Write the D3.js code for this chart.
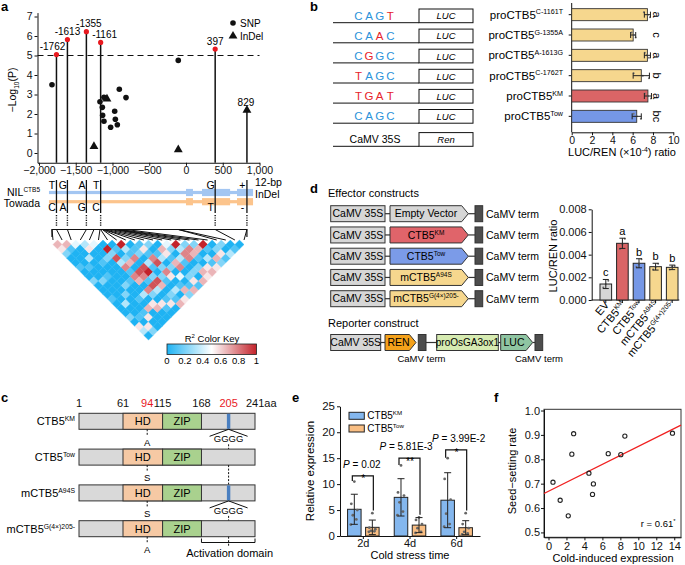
<!DOCTYPE html>
<html>
<head>
<meta charset="utf-8">
<script src="https://cdn.jsdelivr.net/npm/d3@7"></script>
<style>
body { margin: 0; background: #fff; }
svg { font-family: 'Liberation Sans', Arial, sans-serif; }
</style>
</head>
<body>
<script>
// ---- data: panel a (association + gene model + LD) ----
var aPeakPos = [-1762, -1613, -1355, -1161, 397]
var aPeakP = [5.05, 5.82, 6.22, 5.67, 5.33]
var aSnpPos = [-1823, -105, -1170, -1138, -1134, -1116, -1116, -1025, -970, -961, -934, -907, -816]
var aSnpP = [3.5, 4.75, 2.63, 2.34, 1.93, 2.86, 1.63, 1.32, 2.14, 1.73, 1.45, 3.27, 2.84]
var aIndelPos = [-1075, -1252, -105]
var aIndelP = [2.77, 0.34, 0.17]
var aBigIndelPos = 829, aBigIndelP = 2.2
var aTicksX = [-2000, -1500, -1000, -500, 0, 500, 1000]
var aVarPos = [-1762, -1613, -1355, -1161, 397, 829]
var aAlleleNil = ['T', 'G', 'A', 'T', 'G', '+']
var aAlleleTow = ['C', 'A', 'G', 'C', 'T', '-']
var aGeneSpan = [-1864, 912]
var aExons = [[0, 95], [218, 600], [694, 912]]
// all markers used in the LD plot, in genomic order
var ldPos = [-1823, -1762, -1613, -1355, -1252, -1170, -1161, -1138, -1134, -1116, -1116,
             -1075, -1025, -970, -961, -934, -907, -816, -105, -105, 397, 829]
// R2 x 9, row i holds pairs (i, i+1 .. last)
var ldRows = [
  '652001002000100020530', '61000100200003001052', '4003000100020001500', '350010000200106000',
  '40020000100305600', '0928371760720510', '010260871830150', '93170892860216',
  '0120310210305', '151782750162', '20130204016', '0651670251', '420310206', '93770265',
  '2761056', '260315', '91062', '0251', '203', '01', '0'
]
var keyTicks = [0, 0.2, 0.4, 0.6, 0.8, 1]

// ---- panel b ----
var bSeqs = ['CAGT', 'CAAC', 'CGGC', 'TAGC', 'TGAT', 'CAGC']
var bSeqRed = [[3], [2], [1], [0], [0, 1, 2, 3], []]
var bLabels = ['proCTB5^C-1161T', 'proCTB5^G-1355A', 'proCTB5^A-1613G', 'proCTB5^C-1762T', 'proCTB5^KM', 'proCTB5^Tow']
var bVals = [7.45, 6.05, 7.45, 6.85, 7.5, 6.4]
var bErr = [0.3, 0.25, 0.3, 0.8, 0.35, 0.45]
var bDots = [[7.1, 7.5, 7.7], [5.9, 6.1, 6.3], [7.2, 7.4, 7.6], [6.1, 7.0, 7.6], [7.2, 7.5, 7.8], [6.1, 6.4, 6.8]]
var bLetters = ['a', 'c', 'a', 'b', 'a', 'bc']
var bTicks = [0, 2, 4, 6, 8, 10]

// ---- panel c ----
var cRows = ['CTB5^KM', 'CTB5^Tow', 'mCTB5^A94S', 'mCTB5^G(4×)205-']
var cSite94 = ['A', 'S', 'S', 'A']
var cInsert = [true, false, true, false]
var cTicks = [1, 61, 94, 115, 168, 205, 241]
var cHighlight = [94, 205]
var cHD = [61, 115], cZIP = [115, 168], cAct = [168, 241]

// ---- panel d ----
var dConstructs = ['Empty Vector', 'CTB5^KM', 'CTB5^Tow', 'mCTB5^A94S', 'mCTB5^G(4×)205-']
var dLabels = ['EV', 'CTB5^KM', 'CTB5^Tow', 'mCTB5^A94S', 'mCTB5^G(4×)205-']
var dVals = [0.00141, 0.0050, 0.00324, 0.00294, 0.00288]
var dErr = [0.0004, 0.00045, 0.0004, 0.0003, 0.0002]
var dDots = [[0.0011, 0.0014, 0.0017], [0.0045, 0.0049, 0.0054], [0.0029, 0.0032, 0.0036], [0.0027, 0.0029, 0.0032], [0.0027, 0.0029, 0.0030]]
var dLetters = ['c', 'a', 'b', 'b', 'b']
var dTicks = [0, 0.002, 0.004, 0.006, 0.008]

// ---- panel e ----
var eDays = ['2d', '4d', '6d']
var eKM = [5.15, 7.45, 6.9], eKMsd = [2.9, 3.6, 5.3]
var eTow = [1.67, 2.1, 1.6], eTowsd = [1.4, 1.45, 1.35]
var eKMpts = [[10.5, 6.2, 5.0, 4.0, 3.2, 2.2], [13.6, 8.4, 7.8, 6.5, 4.7, 4.0], [15.0, 11.0, 7.0, 4.3, 2.3, 1.8]]
var eTowPts = [[4.4, 1.6, 1.3, 1.0, 0.9, 0.8], [3.6, 3.1, 2.3, 1.5, 0.8, 0.6], [4.4, 2.3, 1.5, 0.8, 0.5, 0.3]]
var eP = ['0.02', '5.81E-3', '3.99E-2']
var eStars = ['*', '**', '*']
var eBracket = [11.6, 15.0, 16.6]
var eTicks = [0, 5, 10, 15, 20, 25]

// ---- panel f ----
var fX = [0.5, 1.3, 2.2, 2.6, 2.8, 4.5, 5.0, 4.9, 6.65, 8.05, 8.5, 13.8]
var fY = [0.706, 0.632, 0.568, 0.821, 0.905, 0.743, 0.699, 0.656, 0.823, 0.819, 0.895, 0.907]
var fIntercept = 0.669, fSlope = 0.0184
var fTicksX = [0, 2, 4, 6, 8, 10, 12, 14]
var fTicksY = [0.5, 0.6, 0.7, 0.8, 0.9, 1.0]

var colYellow = '#F6D78E', colRed = '#DA6566', colBlue = '#7597E6', colGray = '#D6D6D6'
// small horizontal nudges for labels (layout only)
var aLabelDx = [-4, 0, 2.5, 4, 0, -1]
var ePLabelDx = [-1.5, -4, 2]

var svg = d3.select('body').append('svg').attr('width', 685).attr('height', 565)
svg.append('rect').attr('width', 685).attr('height', 565).attr('fill', '#fff')

//text with superscript / subscript pieces
function rich(g, x, y, pieces, fs) {
    var t = g.append('text').attr('x', x).attr('y', y).attr('font-size', fs)
    var shift = 0
    pieces.forEach(function(p) {
        var target = p[1] == 'sup' ? -0.38 * fs : p[1] == 'sub' ? 0.28 * fs : 0
        var s = t.append('tspan').attr('dy', target - shift).text(p[0])
        if (p[1]) s.attr('font-size', fs * 0.62)
        shift = target
    })
    return t
}
function pieces(label) {
    var k = label.indexOf('^')
    return k < 0 ? [[label, null]] : [[label.slice(0, k), null], [label.slice(k + 1), 'sup']]
}
function styleAxis(g, fs) {
    g.attr('font-family', null).attr('font-size', fs)
    g.selectAll('line, path').attr('stroke', '#111').attr('stroke-width', 1)
    g.selectAll('text').attr('fill', '#111')
}

// panel letters
;[['a', 1, 11], ['b', 310, 11], ['c', 1, 402], ['d', 310, 193], ['e', 292, 402], ['f', 494, 402]].forEach(function(p) {
    svg.append('text').attr('x', p[1]).attr('y', p[2]).attr('font-size', 13).attr('font-weight', 'bold').text(p[0])
})

/* ================= panel a ================= */
var gA = svg.append('g')
var aX = d3.scaleLinear().domain([-2020, 1000]).range([37.5, 259.5])
var aY = d3.scaleLinear().domain([-0.5, 7.2]).range([162.75, 12.6])

gA.append('g').attr('transform', 'translate(37.5,0)')
    .call(d3.axisLeft(aY).tickValues(d3.range(0, 8)).tickSize(3).tickSizeOuter(0).tickPadding(2))
    .call(styleAxis, 10.5)
gA.append('g').attr('transform', 'translate(0,162.75)')
    .call(d3.axisBottom(aX).tickValues(aTicksX).tickSize(3).tickSizeOuter(0).tickPadding(1))
    .call(styleAxis, 10.5)

rich(gA.append('g').attr('transform', 'translate(16,90) rotate(-90)'), 0, 0,
    [['−Log', null], ['10', 'sub'], ['(P)', null]], 10.5).attr('text-anchor', 'middle')

gA.append('line').attr('x1', aX(-2020)).attr('x2', aX(1000)).attr('y1', aY(5)).attr('y2', aY(5))
    .attr('stroke', '#111').attr('stroke-width', 1.2).attr('stroke-dasharray', '6,4')

// stems
var stems = aPeakPos.map(function(d, i) { return [d, aPeakP[i]] }).concat([[aBigIndelPos, aBigIndelP]])
gA.selectAll('.stem').data(stems).enter().append('line')
    .attr('x1', function(d) { return aX(d[0]) }).attr('x2', function(d) { return aX(d[0]) })
    .attr('y1', function(d) { return aY(d[1]) }).attr('y2', aY.range()[0])
    .attr('stroke', '#111').attr('stroke-width', 1.5)

gA.selectAll('.snp').data(aSnpPos).enter().append('circle')
    .attr('cx', function(d) { return aX(d) }).attr('cy', function(d, i) { return aY(aSnpP[i]) })
    .attr('r', 2.8).attr('fill', '#111')
var tri = d3.symbol().type(d3.symbolTriangle).size(34)
gA.selectAll('.indel').data(aIndelPos.concat([aBigIndelPos])).enter().append('path')
    .attr('d', tri)
    .attr('transform', function(d, i) { return 'translate(' + aX(d) + ',' + aY(i < aIndelP.length ? aIndelP[i] : aBigIndelP) + ')' })
    .attr('fill', '#111')
gA.selectAll('.peak').data(aPeakPos).enter().append('circle')
    .attr('cx', function(d) { return aX(d) }).attr('cy', function(d, i) { return aY(aPeakP[i]) })
    .attr('r', 2.6).attr('fill', '#E8191F')
gA.selectAll('.plab').data(stems).enter().append('text')
    .attr('x', function(d, i) { return aX(d[0]) + aLabelDx[i] }).attr('y', function(d) { return aY(d[1]) - 4.5 })
    .attr('text-anchor', 'middle').attr('font-size', 10)
    .text(function(d) { return d[0] < 0 ? '-' + Math.abs(d[0]) : d[0] })

// legend
gA.append('circle').attr('cx', 233).attr('cy', 23).attr('r', 2.8).attr('fill', '#111')
gA.append('text').attr('x', 240).attr('y', 26.5).attr('font-size', 10).text('SNP')
gA.append('path').attr('d', tri).attr('transform', 'translate(233,36)').attr('fill', '#111')
gA.append('text').attr('x', 240).attr('y', 39.5).attr('font-size', 10).text('InDel')

// gene model
var geneRows = [{ y: 192.5, c: '#A3C6F2' }, { y: 201.7, c: '#FCC48C' }]
geneRows.forEach(function(r) {
    gA.append('rect').attr('x', aX(aGeneSpan[0])).attr('width', aX(aGeneSpan[1]) - aX(aGeneSpan[0]))
        .attr('y', r.y - 1.6).attr('height', 3.2).attr('fill', r.c)
    gA.selectAll(null).data(aExons).enter().append('rect')
        .attr('x', function(d) { return aX(d[0]) }).attr('width', function(d) { return aX(d[1]) - aX(d[0]) })
        .attr('y', r.y - 3.6).attr('height', 7.2).attr('fill', r.c)
})
rich(gA, 40, 195.5, [['NIL', null], ['CTB5', 'sup']], 10.5).attr('text-anchor', 'end')
gA.append('text').attr('x', 40).attr('y', 207).attr('text-anchor', 'end').attr('font-size', 10.5).text('Towada')
gA.append('text').attr('x', 255).attr('y', 186).attr('font-size', 10.5).text('12-bp')
gA.append('text').attr('x', 255).attr('y', 198).attr('font-size', 10.5).text('InDel')

gA.selectAll('.vline').data(aVarPos).enter().append('line')
    .attr('x1', function(d) { return aX(d) }).attr('x2', function(d) { return aX(d) })
    .attr('y1', 180).attr('y2', 213).attr('stroke', '#111').attr('stroke-width', 1.3)
gA.selectAll('.dline').data(aVarPos).enter().append('line')
    .attr('x1', function(d) { return aX(d) }).attr('x2', function(d) { return aX(d) })
    .attr('y1', 215).attr('y2', 226).attr('stroke', '#111').attr('stroke-width', 1.4).attr('stroke-dasharray', '1.2,1.2')
gA.selectAll('.alT').data(aAlleleNil).enter().append('text')
    .attr('x', function(d, i) { return aX(aVarPos[i]) - 4.5 }).attr('y', 188.5)
    .attr('text-anchor', 'middle').attr('font-size', 10.5).text(function(d) { return d })
gA.selectAll('.alB').data(aAlleleTow).enter().append('text')
    .attr('x', function(d, i) { return aX(aVarPos[i]) - 4.5 }).attr('y', 211)
    .attr('text-anchor', 'middle').attr('font-size', 10.5).text(function(d) { return d })

// LD bracket, fan and heatmap
var ldX = d3.scaleLinear().domain([0, ldPos.length - 1]).range([53, 244])
var half = (ldX(1) - ldX(0)) / 2, ldTop = 240
var bx0 = aX(ldPos[0]), bx1 = aX(ldPos[ldPos.length - 1])
gA.append('path').attr('d', 'M' + bx0 + ',237 L' + bx0 + ',229.5 L' + bx1 + ',229.5 L' + bx1 + ',237')
    .attr('fill', 'none').attr('stroke', '#111').attr('stroke-width', 1.2)
gA.selectAll('.fan').data(ldPos).enter().append('line')
    .attr('x1', function(d) { return aX(d) }).attr('y1', 229.5)
    .attr('x2', function(d, i) { return ldX(i) }).attr('y2', ldTop)
    .attr('stroke', '#111').attr('stroke-width', 1)

var ldColor = d3.scaleLinear().domain([0, 0.5, 1]).range(['#1FB3F3', '#FFFFFF', '#C3222A'])
var cells = []
ldRows.forEach(function(row, i) {
    row.split('').forEach(function(ch, k) { cells.push({ i: i, j: i + k + 1, r2: +ch / 9 }) })
})
gA.selectAll('.ld').data(cells).enter().append('path')
    .attr('d', function(d) {
        var cx = (ldX(d.i) + ldX(d.j)) / 2, cy = ldTop + (d.j - d.i) * half
        return 'M' + cx + ',' + (cy - half) + 'L' + (cx + half) + ',' + cy + 'L' + cx + ',' + (cy + half) + 'L' + (cx - half) + ',' + cy + 'Z'
    })
    .attr('fill', function(d) { return ldColor(d.r2) })
    .attr('stroke', function(d) { return ldColor(d.r2) }).attr('stroke-width', 0.4)

// colour key
var keyX = d3.scaleLinear().domain([0, 1]).range([167, 256.5])
var grad = svg.append('defs').append('linearGradient').attr('id', 'ldgrad')
d3.range(0, 1.001, 0.1).forEach(function(v) {
    grad.append('stop').attr('offset', v).attr('stop-color', ldColor(v))
})
gA.append('text').attr('x', 212).attr('y', 341.5).attr('text-anchor', 'middle').attr('font-size', 9.5)
    .call(function(t) {
        t.append('tspan').text('R')
        t.append('tspan').attr('dy', -3.5).attr('font-size', 6).text('2')
        t.append('tspan').attr('dy', 3.5).text(' Color Key')
    })
gA.append('rect').attr('x', keyX(0)).attr('y', 344).attr('width', keyX(1) - keyX(0)).attr('height', 10.5)
    .attr('fill', 'url(#ldgrad)').attr('stroke', '#222').attr('stroke-width', 0.8)
gA.selectAll('.kt').data(keyTicks).enter().append('text')
    .attr('x', function(d) { return keyX(d) }).attr('y', 364).attr('text-anchor', 'middle').attr('font-size', 9.5)
    .text(function(d) { return d })

/* ================= panel b ================= */
var gB = svg.append('g')
var seqBlue = '#2A93DA', seqRed = '#E6232B'
bSeqs.forEach(function(s, i) {
    var top = 9 + i * 20.1
    gB.append('line').attr('x1', 333).attr('x2', 419).attr('y1', top + 13.7).attr('y2', top + 13.7).attr('stroke', '#111')
    gB.append('rect').attr('x', 419).attr('y', top).attr('width', 54).attr('height', 13.7)
        .attr('fill', '#fff').attr('stroke', '#111')
    gB.append('text').attr('x', 446).attr('y', top + 10.3).attr('text-anchor', 'middle')
        .attr('font-size', 9.5).attr('font-style', 'italic').text('LUC')
    s.split('').forEach(function(ch, k) {
        gB.append('text').attr('x', 358.5 + k * 10.6).attr('y', top + 10.5).attr('text-anchor', 'middle')
            .attr('font-size', 11.5).attr('fill', bSeqRed[i].indexOf(k) >= 0 ? seqRed : seqBlue).text(ch)
    })
})
var renTop = 9 + 6 * 20.1 + 3
gB.append('line').attr('x1', 333).attr('x2', 419).attr('y1', renTop + 13.7).attr('y2', renTop + 13.7).attr('stroke', '#111')
gB.append('rect').attr('x', 419).attr('y', renTop).attr('width', 54).attr('height', 13.7).attr('fill', '#fff').attr('stroke', '#111')
gB.append('text').attr('x', 446).attr('y', renTop + 10.3).attr('text-anchor', 'middle').attr('font-size', 9.5)
    .attr('font-style', 'italic').text('Ren')
gB.append('text').attr('x', 375).attr('y', renTop + 10.5).attr('text-anchor', 'middle').attr('font-size', 10.5).text('CaMV 35S')

var bX = d3.scaleLinear().domain([0, 10]).range([571.7, 673.3])
var bY = d3.scaleBand().domain(bLabels).range([4.5, 126.5])
var bCol = [colYellow, colYellow, colYellow, colYellow, colRed, colBlue]
gB.append('g').attr('transform', 'translate(0,132.3)')
    .call(d3.axisBottom(bX).tickValues(bTicks).tickSize(3).tickSizeOuter(0).tickPadding(1.5))
    .call(styleAxis, 10.5)
gB.append('line').attr('x1', bX(0)).attr('x2', bX(0)).attr('y1', 3).attr('y2', 132.3).attr('stroke', '#111')
bLabels.forEach(function(lab, i) {
    var cy = bY(lab) + bY.bandwidth() / 2
    gB.append('line').attr('x1', bX(0) - 3).attr('x2', bX(0)).attr('y1', cy).attr('y2', cy).attr('stroke', '#111')
    gB.append('rect').attr('x', bX(0)).attr('y', cy - 6).attr('width', bX(bVals[i]) - bX(0)).attr('height', 12)
        .attr('fill', bCol[i]).attr('stroke', '#333').attr('stroke-width', 0.9)
    bDots[i].forEach(function(v, k) {
        gB.append('circle').attr('cx', bX(v)).attr('cy', cy - 2.5 + k * 2.5).attr('r', 1).attr('fill', '#777')
    })
    var e0 = bX(bVals[i] - bErr[i]), e1 = bX(bVals[i] + bErr[i])
    gB.append('path').attr('d', 'M' + e0 + ',' + (cy - 3) + 'V' + (cy + 3) + 'M' + e0 + ',' + cy + 'H' + e1 + 'M' + e1 + ',' + (cy - 3) + 'V' + (cy + 3))
        .attr('stroke', '#222').attr('fill', 'none')
    rich(gB, 563, cy + 4, pieces(lab), 11.5).attr('text-anchor', 'end')
    gB.append('text').attr('transform', 'translate(656.5,' + cy + ') rotate(90)').attr('text-anchor', 'middle')
        .attr('dy', '0.35em').attr('font-size', 11).text(bLetters[i])
})
rich(gB, 622, 156, [['LUC/REN (×10', null], ['-4', 'sup'], [') ratio', null]], 11).attr('text-anchor', 'middle')

/* ================= panel c ================= */
var gC = svg.append('g')
var cX = d3.scaleLinear().domain([1, 241]).range([79, 255])
var cRowY = d3.scaleBand().domain(d3.range(cRows.length)).range([413.3, 413.3 + 35.8 * cRows.length])
var rh = 16
gC.selectAll('.cnum').data(cTicks).enter().append('text')
    .attr('x', function(d) { return d == 241 ? cX(d) - 9 : cX(d) })
    .attr('y', 407).attr('font-size', 11)
    .attr('text-anchor', function(d) { return d == 241 ? 'start' : 'middle' })
    .attr('fill', function(d) { return cHighlight.indexOf(d) >= 0 ? '#E8191F' : '#111' })
    .text(function(d) { return d == 241 ? d + 'aa' : d })
cRows.forEach(function(lab, i) {
    var top = cRowY(i)
    gC.append('rect').attr('x', cX(1)).attr('y', top).attr('width', cX(241) - cX(1)).attr('height', rh)
        .attr('fill', '#D9D9D9').attr('stroke', '#333')
    gC.append('rect').attr('x', cX(cHD[0])).attr('y', top).attr('width', cX(cHD[1]) - cX(cHD[0])).attr('height', rh)
        .attr('fill', '#F6C9A4').attr('stroke', '#333')
    gC.append('rect').attr('x', cX(cZIP[0])).attr('y', top).attr('width', cX(cZIP[1]) - cX(cZIP[0])).attr('height', rh)
        .attr('fill', '#A9D18E').attr('stroke', '#333')
    gC.append('text').attr('x', cX((cHD[0] + cHD[1]) / 2)).attr('y', top + 12).attr('text-anchor', 'middle').attr('font-size', 11).text('HD')
    gC.append('text').attr('x', cX((cZIP[0] + cZIP[1]) / 2)).attr('y', top + 12).attr('text-anchor', 'middle').attr('font-size', 11).text('ZIP')
    rich(gC, 75, top + 12, pieces(lab), 11).attr('text-anchor', 'end')
    // residue 94
    gC.append('line').attr('x1', cX(94)).attr('x2', cX(94)).attr('y1', top + rh).attr('y2', top + rh + 7)
        .attr('stroke', '#111').attr('stroke-dasharray', '2,1.5')
    gC.append('text').attr('x', cX(94)).attr('y', top + 32.2).attr('text-anchor', 'middle').attr('font-size', 9.5).text(cSite94[i])
    if (cInsert[i]) {
        gC.append('rect').attr('x', cX(205) - 1.7).attr('y', top + 0.5).attr('width', 3.4).attr('height', rh - 1)
            .attr('fill', '#4A7FC0')
        gC.append('path').attr('d', 'M' + (cX(205) - 19) + ',' + (top + rh + 7) + 'L' + cX(205) + ',' + (top + rh) + 'L' + (cX(205) + 19) + ',' + (top + rh + 7))
            .attr('fill', 'none').attr('stroke', '#111')
        gC.append('text').attr('x', cX(205)).attr('y', top + 29).attr('text-anchor', 'middle').attr('font-size', 9.5).text('GGGG')
    }
    // dashed guide at residue 205 down to the next row
    var y0 = cInsert[i] ? top + 31 : top + rh
    var y1 = i < cRows.length - 1 ? cRowY(i + 1) : 547
    gC.append('line').attr('x1', cX(205)).attr('x2', cX(205)).attr('y1', y0).attr('y2', y1)
        .attr('stroke', '#111').attr('stroke-dasharray', '2,1.5')
})
gC.append('path').attr('d', 'M' + cX(cAct[0]) + ',538.5V542.5H' + cX(cAct[1]) + 'V538.5')
    .attr('fill', 'none').attr('stroke', '#111')
gC.append('text').attr('x', cX(205) + 1).attr('y', 557).attr('text-anchor', 'middle').attr('font-size', 11).text('Activation domain')

/* ================= panel d ================= */
var gD = svg.append('g')
var dFill = [colGray, '#E0646A', '#7B9BE8', colYellow, colYellow]
gD.append('text').attr('x', 328).attr('y', 197).attr('font-size', 11).text('Effector constructs')
function box35S(top, x1) {
    gD.append('rect').attr('x', 330.7).attr('y', top).attr('width', x1 - 330.7).attr('height', 16)
        .attr('fill', colGray).attr('stroke', '#333')
    gD.append('text').attr('x', (330.7 + x1) / 2).attr('y', top + 11.7).attr('text-anchor', 'middle').attr('font-size', 10.5).text('CaMV 35S')
}
function arrowBox(top, xa, xb, fill) {
    gD.append('path').attr('d', 'M' + xa + ',' + top + 'H' + (xb - 6.6) + 'L' + xb + ',' + (top + 8) + 'L' + (xb - 6.6) + ',' + (top + 16) + 'H' + xa + 'Z')
        .attr('fill', fill).attr('stroke', '#333')
}
function link(top, xa, xb) {
    gD.append('line').attr('x1', xa).attr('x2', xb).attr('y1', top + 8).attr('y2', top + 8).attr('stroke', '#333').attr('stroke-width', 1.2)
}
function term(top, xa) {
    gD.append('rect').attr('x', xa).attr('y', top).attr('width', 7.7).attr('height', 16).attr('fill', '#4D4D4D').attr('stroke', '#333')
}
dConstructs.forEach(function(lab, i) {
    var top = 205.7 + i * 21.25
    box35S(top, 385)
    link(top, 385, 390)
    arrowBox(top, 390, 468.3, dFill[i])
    rich(gD, 426, top + 11.7, pieces(lab), 10.5).attr('text-anchor', 'middle')
    link(top, 468.3, 475)
    term(top, 475)
    gD.append('text').attr('x', 486).attr('y', top + 12).attr('font-size', 10.5).text('CaMV term')
})
gD.append('text').attr('x', 328).attr('y', 327).attr('font-size', 11).text('Reporter construct')
var rTop = 334.5
box35S(rTop, 380.7)
link(rTop, 380.7, 385)
arrowBox(rTop, 385, 416, '#F5A21B')
gD.append('text').attr('x', 398.5).attr('y', rTop + 11.7).attr('text-anchor', 'middle').attr('font-size', 10.5).text('REN')
term(rTop, 418.3)
link(rTop, 426, 436.7)
gD.append('rect').attr('x', 436.7).attr('y', rTop).attr('width', 61.6).attr('height', 16).attr('fill', '#D6EBB1').attr('stroke', '#333')
gD.append('text').attr('x', 467.5).attr('y', rTop + 11.5).attr('text-anchor', 'middle').attr('font-size', 10).text('proOsGA3ox1')
link(rTop, 498.3, 500.7)
arrowBox(rTop, 500.7, 532.7, '#8FC5A2')
gD.append('text').attr('x', 514).attr('y', rTop + 11.7).attr('text-anchor', 'middle').attr('font-size', 10.5).text('LUC')
link(rTop, 532.7, 535)
term(rTop, 535)
gD.append('text').attr('x', 421.5).attr('y', 362).attr('text-anchor', 'middle').attr('font-size', 9.5).text('CaMV term')
gD.append('text').attr('x', 539).attr('y', 362).attr('text-anchor', 'middle').attr('font-size', 9.5).text('CaMV term')

var dX = d3.scaleBand().domain(dLabels).range([597.5, 680.5]).paddingInner(0.3).paddingOuter(0.15)
var dY = d3.scaleLinear().domain([0, 0.008]).range([300, 209.3])
var dCol = [colGray, colRed, colBlue, colYellow, colYellow]
gD.append('g').attr('transform', 'translate(591.7,0)')
    .call(d3.axisLeft(dY).tickValues(dTicks).tickFormat(d3.format('.3f')).tickSize(3).tickSizeOuter(0).tickPadding(2))
    .call(styleAxis, 11)
gD.append('line').attr('x1', 591.7).attr('x2', 679.3).attr('y1', 300).attr('y2', 300).attr('stroke', '#111')
dLabels.forEach(function(lab, i) {
    var x = dX(lab), bw = dX.bandwidth(), cx = x + bw / 2
    gD.append('rect').attr('x', x).attr('y', dY(dVals[i])).attr('width', bw).attr('height', dY(0) - dY(dVals[i]))
        .attr('fill', dCol[i]).attr('stroke', '#222').attr('stroke-width', 1)
    dDots[i].forEach(function(v, k) {
        gD.append('circle').attr('cx', cx - 2.5 + k * 2.5).attr('cy', dY(v)).attr('r', 1).attr('fill', '#666')
    })
    var e0 = dY(dVals[i] - dErr[i]), e1 = dY(dVals[i] + dErr[i])
    gD.append('path').attr('d', 'M' + (cx - 3) + ',' + e0 + 'H' + (cx + 3) + 'M' + cx + ',' + e0 + 'V' + e1 + 'M' + (cx - 3) + ',' + e1 + 'H' + (cx + 3))
        .attr('stroke', '#222').attr('fill', 'none')
    gD.append('line').attr('x1', cx).attr('x2', cx).attr('y1', 300).attr('y2', 303).attr('stroke', '#111')
    gD.append('text').attr('x', cx).attr('y', e1 - 3).attr('text-anchor', 'middle').attr('font-size', 11).text(dLetters[i])
    rich(gD.append('g').attr('transform', 'translate(' + (cx + 4) + ',305) rotate(-50)'), 0, 0, pieces(lab), 11)
        .attr('text-anchor', 'end')
})
gD.append('text').attr('transform', 'translate(557,256) rotate(-90)').attr('text-anchor', 'middle').attr('font-size', 11).text('LUC/REN ratio')

/* ================= panel e ================= */
var gE = svg.append('g')
var eX = d3.scaleBand().domain(eDays).range([340, 480])
var eSub = d3.scaleBand().domain(['KM', 'Tow']).range([0, eX.bandwidth()]).paddingInner(0.25).paddingOuter(0.42)
var eY = d3.scaleLinear().domain([0, 25]).range([536, 406.3])
var eCol = { KM: '#84B7EE', Tow: '#F9BE83' }
gE.append('g').attr('transform', 'translate(340,0)')
    .call(d3.axisLeft(eY).tickValues(eTicks).tickSize(3).tickSizeOuter(0).tickPadding(2))
    .call(styleAxis, 11.5)
gE.append('g').attr('transform', 'translate(0,536)')
    .call(d3.axisBottom(eX).tickSize(3).tickSizeOuter(0).tickPadding(0.5))
    .call(styleAxis, 11)
eDays.forEach(function(day, i) {
    var series = [['KM', eKM[i], eKMsd[i], eKMpts[i]], ['Tow', eTow[i], eTowsd[i], eTowPts[i]]]
    series.forEach(function(s) {
        var x = eX(day) + eSub(s[0]), bw = eSub.bandwidth(), cx = x + bw / 2
        gE.append('rect').attr('x', x).attr('y', eY(s[1])).attr('width', bw).attr('height', eY(0) - eY(s[1]))
            .attr('fill', eCol[s[0]]).attr('stroke', '#222')
        s[3].forEach(function(v, k) {
            gE.append('circle').attr('cx', cx + [0, -3, 3, -1.5, 2, -3.5][k]).attr('cy', eY(v)).attr('r', 1.4).attr('fill', '#666')
        })
        var lo = eY(Math.max(0, s[1] - s[2])), hi = eY(s[1] + s[2])
        gE.append('path').attr('d', 'M' + (cx - 3.5) + ',' + lo + 'H' + (cx + 3.5) + 'M' + cx + ',' + lo + 'V' + hi + 'M' + (cx - 3.5) + ',' + hi + 'H' + (cx + 3.5))
            .attr('stroke', '#222').attr('fill', 'none')
    })
    // significance bracket
    var xl = eX(day) + eSub('KM') + eSub.bandwidth() / 2 - 2
    var xr = eX(day) + eSub('Tow') + eSub.bandwidth() / 2 + 1
    var yb = eY(eBracket[i])
    gE.append('path').attr('d', 'M' + xl + ',' + eY(d3.max(eKMpts[i]) + 0.1) + 'V' + yb + 'H' + xr + 'V' + eY(d3.max(eTowPts[i]) + 0.5))
        .attr('fill', 'none').attr('stroke', '#111').attr('stroke-width', 1.2)
    var gc = eX(day) + eX.bandwidth() / 2
    gE.append('text').attr('x', gc).attr('y', yb + 6.5).attr('text-anchor', 'middle').attr('font-size', 10.5).text(eStars[i])
    gE.append('text').attr('x', gc + ePLabelDx[i]).attr('y', yb - 7.7).attr('text-anchor', 'middle').attr('font-size', 10)
        .call(function(t) {
            t.append('tspan').attr('font-style', 'italic').text('P')
            t.append('tspan').text(' = ' + eP[i])
        })
})
gE.append('rect').attr('x', 349).attr('y', 412.3).attr('width', 15.3).attr('height', 7).attr('fill', eCol.KM).attr('stroke', '#222')
rich(gE, 367.3, 419, pieces('CTB5^KM'), 10)
gE.append('rect').attr('x', 349).attr('y', 425).attr('width', 15.3).attr('height', 7).attr('fill', eCol.Tow).attr('stroke', '#222')
rich(gE, 367.3, 432, pieces('CTB5^Tow'), 10)
gE.append('text').attr('transform', 'translate(314,471) rotate(-90)').attr('text-anchor', 'middle').attr('font-size', 11.5).text('Relative expression')
gE.append('text').attr('x', 410).attr('y', 558.5).attr('text-anchor', 'middle').attr('font-size', 11).text('Cold stress time')

/* ================= panel f ================= */
var gF = svg.append('g')
var fx = d3.scaleLinear().domain([-0.5, 14.75]).range([544, 681])
var fy = d3.scaleLinear().domain([0.48, 1.005]).range([537.3, 409.3])
gF.append('rect').attr('x', 544).attr('y', 409.3).attr('width', 137).attr('height', 128)
    .attr('fill', 'none').attr('stroke', '#333').attr('stroke-width', 1)
gF.append('g').attr('transform', 'translate(544,0)')
    .call(d3.axisLeft(fy).tickValues(fTicksY).tickFormat(d3.format('.1f')).tickSize(3).tickSizeOuter(0).tickPadding(1))
    .call(styleAxis, 11)
gF.append('g').attr('transform', 'translate(0,537.3)')
    .call(d3.axisBottom(fx).tickValues(fTicksX).tickSize(3).tickSizeOuter(0).tickPadding(1.5))
    .call(styleAxis, 11)
var fxd = fx.domain()
gF.append('line').attr('x1', fx(fxd[0])).attr('x2', fx(fxd[1]))
    .attr('y1', fy(fIntercept + fSlope * fxd[0])).attr('y2', fy(fIntercept + fSlope * fxd[1]))
    .attr('stroke', '#F02020').attr('stroke-width', 1.3)
gF.selectAll('.fp').data(fX).enter().append('circle')
    .attr('cx', function(d) { return fx(d) }).attr('cy', function(d, i) { return fy(fY[i]) })
    .attr('r', 2.1).attr('fill', 'none').attr('stroke', '#222').attr('stroke-width', 1.1)
rich(gF, 675.5, 527, [['r = 0.61', null], ['*', 'sup']], 9.5).attr('text-anchor', 'end')
gF.append('text').attr('transform', 'translate(516,471) rotate(-90)').attr('text-anchor', 'middle').attr('font-size', 11).text('Seed−setting rate')
gF.append('text').attr('x', 613).attr('y', 561.5).attr('text-anchor', 'middle').attr('font-size', 11).text('Cold-induced expression')
</script>
</body>
</html>
